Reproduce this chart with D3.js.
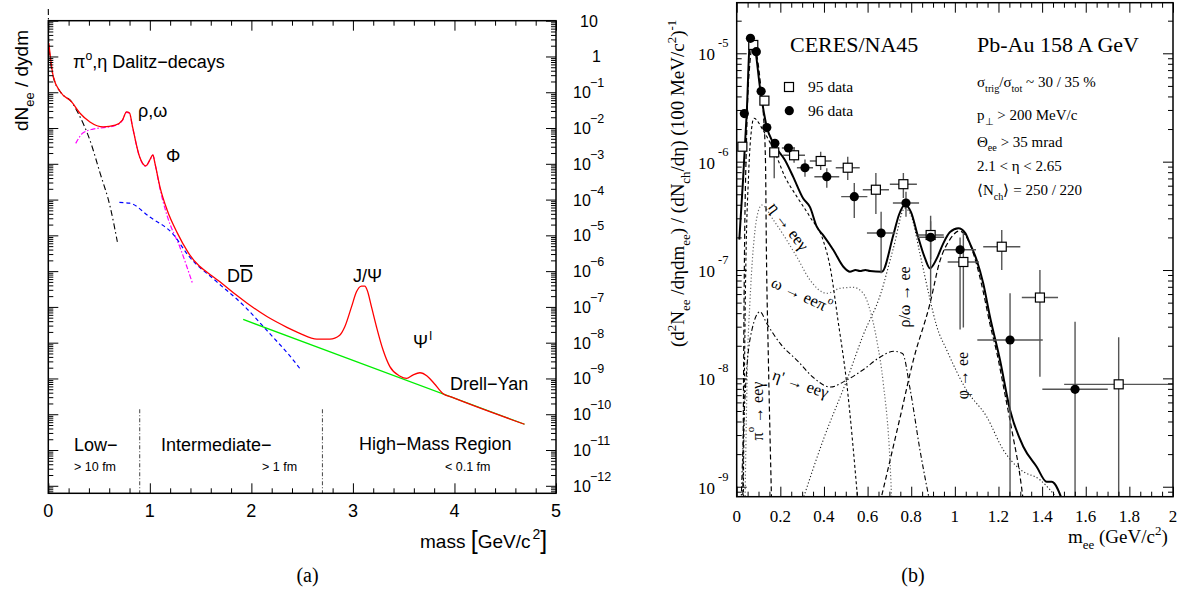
<!DOCTYPE html>
<html><head><meta charset="utf-8">
<script src="https://cdn.jsdelivr.net/npm/d3@7/dist/d3.min.js"></script>
<style>html,body{margin:0;padding:0;background:#fff;} svg{display:block;}</style>
</head><body>
<svg id="chart" width="1183" height="597"></svg>
<script>
// ================= Panel (a): [mass GeV/c^2, log10(dN_ee/dydm)] =================
const aTotal = [[0.005,0.377],[0.05,-0.574],[0.12,-0.993],[0.23,-1.27],[0.31,-1.58],[0.41,-1.83],[0.54,-1.97],[0.66,-1.92],[0.73,-1.78],[0.77,-1.55],[0.80,-1.58],[0.83,-1.97],[0.90,-2.81],[0.96,-3.06],[1.00,-2.89],[1.03,-2.75],[1.05,-2.98],[1.10,-3.65],[1.17,-4.29],[1.27,-4.93],[1.375,-5.47],[1.69,-6.30],[1.955,-6.89],[2.153,-7.27],[2.35,-7.57],[2.477,-7.74],[2.645,-7.90],[2.773,-7.90],[2.87,-7.79],[2.92,-7.555],[2.986,-7.00],[3.035,-6.576],[3.085,-6.417],[3.118,-6.417],[3.14,-6.53],[3.183,-7.0],[3.232,-7.555],[3.297,-8.206],[3.364,-8.67],[3.46,-8.93],[3.53,-9.0],[3.59,-8.905],[3.66,-8.84],[3.73,-8.93],[3.80,-9.14],[3.885,-9.42],[3.98,-9.53],[4.69,-10.28]];
const aDrellYan = [[1.919,-7.35],[4.69,-10.28]];
const aCharm = [[0.70,-4.08],[0.80,-4.10],[1.0,-4.49],[1.23,-4.97],[1.375,-5.55],[1.66,-6.30],[1.92,-6.95],[2.15,-7.65],[2.45,-8.62],[2.49,-8.77]];
const aVector = [[0.27,-2.43],[0.34,-2.14],[0.44,-2.03],[0.575,-1.98],[0.66,-1.93],[0.73,-1.79],[0.77,-1.56],[0.80,-1.59],[0.83,-1.98],[0.90,-2.82],[0.96,-3.07],[1.00,-2.90],[1.03,-2.76],[1.05,-2.99],[1.10,-3.70],[1.17,-4.45],[1.30,-5.36],[1.42,-6.34]];
const aDalitz = [[0.0,1.33],[0.005,0.377],[0.05,-0.574],[0.12,-0.993],[0.23,-1.27],[0.295,-1.59],[0.41,-2.34],[0.51,-3.26],[0.61,-4.21],[0.68,-5.18]];
const aRegionEdges = [0.9, 2.7];
const aRegionTopLog = -9.86;
const aXTicks = [0,1,2,3,4,5];
const aYDecades = [1,0,-1,-2,-3,-4,-5,-6,-7,-8,-9,-10,-11,-12];

// ================= Panel (b): [m_ee GeV/c^2, log10 yield] =================
const bTotal = [[0.012,-6.72],[0.029,-6.17],[0.046,-5.55],[0.061,-4.88],[0.072,-4.86],[0.084,-4.95],[0.107,-5.32],[0.138,-5.68],[0.168,-5.83],[0.221,-5.985],[0.259,-6.14],[0.305,-6.34],[0.336,-6.42],[0.367,-6.60],[0.397,-6.68],[0.443,-6.815],[0.489,-6.97],[0.519,-7.016],[0.545,-7.0],[0.565,-7.01],[0.59,-7.0],[0.611,-7.01],[0.665,-7.016],[0.718,-6.677],[0.744,-6.49],[0.771,-6.40],[0.799,-6.465],[0.831,-6.69],[0.863,-6.89],[0.886,-6.984],[0.918,-6.89],[0.947,-6.754],[0.978,-6.65],[1.016,-6.615],[1.047,-6.658],[1.069,-6.754],[1.100,-6.908],[1.130,-7.123],[1.161,-7.431],[1.207,-7.831],[1.253,-8.292],[1.314,-8.631],[1.375,-8.815],[1.421,-8.954],[1.444,-8.954],[1.497,-9.15]];
const bPi0 = [[0.028,-9.15],[0.035,-7.0],[0.045,-5.8],[0.06,-5.1],[0.075,-4.91],[0.095,-5.05],[0.11,-5.3],[0.122,-5.55],[0.132,-6.0],[0.136,-6.8],[0.145,-7.8],[0.16,-9.15]];
const bEta = [[0.03,-9.15],[0.04,-7.2],[0.055,-6.1],[0.068,-5.7],[0.079,-5.6],[0.121,-5.71],[0.183,-5.954],[0.221,-6.139],[0.275,-6.32],[0.336,-6.51],[0.397,-6.73],[0.428,-6.97],[0.464,-7.46],[0.504,-8.04],[0.556,-9.15]];
const bOmegaDalitz = [[0.038,-9.15],[0.05,-7.8],[0.061,-7.28],[0.084,-6.63],[0.100,-6.45],[0.115,-6.40],[0.168,-6.538],[0.275,-6.877],[0.336,-7.092],[0.413,-7.215],[0.474,-7.169],[0.534,-7.16],[0.58,-7.215],[0.611,-7.369],[0.642,-7.646],[0.672,-8.046],[0.703,-8.78],[0.711,-9.15]];
const bEtaPrime = [[0.02,-9.15],[0.04,-8.1],[0.07,-7.55],[0.107,-7.385],[0.137,-7.49],[0.2,-7.68],[0.28,-7.84],[0.35,-7.99],[0.43,-8.08],[0.5,-8.02],[0.58,-7.92],[0.66,-7.80],[0.72,-7.75],[0.76,-7.77],[0.795,-8.1],[0.84,-8.66],[0.886,-9.15]];
const bRhoOmega = [[0.298,-9.15],[0.40,-8.55],[0.504,-8.02],[0.58,-7.6],[0.66,-7.22],[0.718,-6.8],[0.771,-6.43],[0.80,-6.50],[0.84,-6.85],[0.886,-7.27],[0.917,-7.52],[0.963,-7.74],[1.054,-8.11],[1.146,-8.354],[1.222,-8.66],[1.299,-8.84],[1.39,-8.936],[1.486,-9.15]];
const bPhi = [[0.657,-9.15],[0.749,-8.36],[0.81,-7.83],[0.886,-7.31],[0.931,-6.92],[0.977,-6.72],[1.02,-6.64],[1.06,-6.72],[1.10,-6.95],[1.13,-7.2],[1.161,-7.5],[1.192,-7.76],[1.23,-8.15],[1.268,-8.55],[1.295,-8.85],[1.315,-9.15]];
// 95 data: mass, log10 value, half bin width, log10 upper, log10 lower
const d95m  = [0.026,0.076,0.127,0.172,0.263,0.385,0.509,0.638,0.764,0.889,1.039,1.215,1.390,1.751];
const d95v  = [-5.862,-4.923,-5.437,-5.914,-5.941,-5.994,-6.056,-6.259,-6.208,-6.677,-6.926,-6.785,-7.254,-8.055];
const d95dx = [0.008,0.008,0.01,0.012,0.05,0.05,0.055,0.06,0.062,0.06,0.072,0.085,0.083,0.25];
const d95hi = [-5.84,-4.91,-5.42,-5.80,-5.87,-5.908,-5.955,-6.105,-6.105,-6.50,-6.658,-6.631,-7.00,-7.621];
const d95lo = [-5.88,-4.94,-5.45,-6.153,-6.01,-6.077,-6.17,-6.483,-6.336,-6.90,-7.53,-6.999,-7.985,-9.6];
// 96 data
const d96m  = [0.035,0.063,0.090,0.112,0.138,0.175,0.237,0.313,0.413,0.539,0.662,0.776,0.889,1.024,1.253,1.551];
const d96v  = [-5.556,-4.862,-4.985,-5.350,-5.685,-5.831,-5.874,-6.056,-6.139,-6.323,-6.659,-6.382,-6.698,-6.813,-7.646,-8.101];
const d96dx = [0,0,0,0,0.006,0.012,0.03,0.037,0.057,0.06,0.065,0.06,0.062,0.073,0.15,0.15];
const d96hi = [-5.556,-4.862,-4.985,-5.350,-5.685,-5.80,-5.85,-5.98,-6.06,-6.197,-6.462,-6.277,-6.55,-6.70,-7.215,-7.477];
const d96lo = [-5.556,-4.862,-4.985,-5.350,-5.685,-5.86,-5.90,-6.14,-6.24,-6.52,-7.03,-6.508,-7.246,-7.55,-9.6,-9.6];
const bXTicks = [0,0.2,0.4,0.6,0.8,1,1.2,1.4,1.6,1.8,2];
const bYDecades = [-5,-6,-7,-8,-9];

// ================= drawing =================
const SANS = "'Liberation Sans', Arial, Helvetica, sans-serif";
const SERIF = "'Liberation Serif', 'Times New Roman', Times, serif";
const svg = d3.select('#chart');
svg.append('rect').attr('width',1183).attr('height',597).attr('fill','#fff');

function rich(sel, parts, fs){
  let shift = 0;
  parts.forEach(([t,k])=>{
    const target = k==='sup' ? -0.42*fs : (k==='sub' ? 0.3*fs : 0);
    sel.append('tspan').attr('dy', (target-shift).toFixed(2))
       .style('font-size', (k==='n'?fs:0.68*fs)+'px').text(t);
    shift = target;
  });
  return sel;
}
function txt(g, x, y, parts, fs, fam, opts={}){
  const t = g.append('text').attr('font-family', fam).attr('fill','#000')
    .style('font-size', fs+'px');
  if(opts.rot!==undefined) t.attr('transform',`translate(${x},${y}) rotate(${opts.rot})`);
  else t.attr('x',x).attr('y',y);
  if(opts.anchor) t.attr('text-anchor',opts.anchor);
  if(opts.mid) t.attr('dominant-baseline','central');
  rich(t, typeof parts==='string' ? [[parts,'n']] : parts, fs);
  return t;
}
function logMinor(lo, hi){
  const out=[];
  for(let n=Math.floor(lo); n<=Math.ceil(hi); n++) for(let k=2;k<=9;k++){
    const v=k*Math.pow(10,n); if(Math.log10(v)>=lo && Math.log10(v)<=hi) out.push(v);
  }
  return out;
}
function tickAxis(g, gen, vals, size){
  g.call(gen.tickValues(vals).tickSize(size).tickFormat(''));
  g.select('.domain').remove();
  g.selectAll('line').attr('stroke','#000').attr('stroke-width',1);
}

// ---------- Panel (a) ----------
const aL=48.3, aR=556, aT=20.7, aB=493.3;
const xA = d3.scaleLinear([0,5],[aL,aR]);
const yA = d3.scaleLog([Math.pow(10,-12.21), 10],[aB,aT]);
const gA = svg.append('g');
const lineA = d3.line().x(d=>xA(d[0])).y(d=>yA(Math.pow(10,d[1]))).curve(d3.curveMonotoneX);

aRegionEdges.forEach(m=>{
  gA.append('line').attr('x1',xA(m)).attr('x2',xA(m))
    .attr('y1',yA(Math.pow(10,aRegionTopLog))).attr('y2',aB)
    .attr('stroke','#555').attr('stroke-width',1.1).attr('stroke-dasharray','4,2,1,2');
});
gA.append('path').datum(aDalitz).attr('d',lineA).attr('fill','none').attr('stroke','#000').attr('stroke-width',1.1).attr('stroke-dasharray','6,3,1.5,3');
gA.append('path').datum(aVector).attr('d',lineA).attr('fill','none').attr('stroke','#ff00ff').attr('stroke-width',1.2).attr('stroke-dasharray','5,2,1.5,2');
gA.append('path').datum(aCharm).attr('d',lineA).attr('fill','none').attr('stroke','#0000ff').attr('stroke-width',1.2).attr('stroke-dasharray','4,3');
gA.append('path').datum(aDrellYan).attr('d',lineA).attr('fill','none').attr('stroke','#00ee00').attr('stroke-width',1.3);
gA.append('path').datum(aTotal).attr('d',lineA).attr('fill','none').attr('stroke','#ff0000').attr('stroke-width',1.3);

gA.append('rect').attr('x',aL).attr('y',aT).attr('width',aR-aL).attr('height',aB-aT).attr('fill','none').attr('stroke','#000').attr('stroke-width',1.5);
const aMinorX = d3.range(0,5.001,0.2).filter(v=>Math.abs(v-Math.round(v))>1e-6);
tickAxis(gA.append('g').attr('transform',`translate(0,${aB})`), d3.axisTop(xA), aXTicks, 10);
tickAxis(gA.append('g').attr('transform',`translate(0,${aB})`), d3.axisTop(xA), aMinorX, 5);
tickAxis(gA.append('g').attr('transform',`translate(0,${aT})`), d3.axisBottom(xA), aXTicks, 10);
tickAxis(gA.append('g').attr('transform',`translate(0,${aT})`), d3.axisBottom(xA), aMinorX, 5);
const aMajY = aYDecades.map(n=>Math.pow(10,n));
const aMinY = logMinor(-12.21, 1);
tickAxis(gA.append('g').attr('transform',`translate(${aL},0)`), d3.axisRight(yA), aMajY, 10);
tickAxis(gA.append('g').attr('transform',`translate(${aL},0)`), d3.axisRight(yA), aMinY, 5);
tickAxis(gA.append('g').attr('transform',`translate(${aR},0)`), d3.axisLeft(yA), aMajY, 10);
tickAxis(gA.append('g').attr('transform',`translate(${aR},0)`), d3.axisLeft(yA), aMinY, 5);

aXTicks.forEach(v=> txt(gA, xA(v), 516.7, String(v), 18, SANS, {anchor:'middle'}));
aYDecades.forEach(n=>{
  const y = yA(Math.pow(10,n));
  if(n===1) txt(gA, 580, y, '10', 16, SANS, {mid:true});
  else if(n===0) txt(gA, 592, y, '1', 16, SANS, {mid:true});
  else {
    txt(gA, 573, y, '10', 16, SANS, {mid:true});
    txt(gA, 590, y-9, '\u2212'+(-n), 12.5, SANS, {mid:true});
  }
});
txt(gA, 28, 131, [['dN','n'],['ee','sub'],['  / dydm','n']], 19, SANS, {rot:-90});
const mt = gA.append('text').attr('x',420).attr('y',548.3).attr('font-family',SANS).style('font-size','19px');
mt.append('tspan').text('mass ');
mt.append('tspan').style('font-size','25px').attr('dy',1).text('[');
mt.append('tspan').style('font-size','19px').attr('dy',-1).text('GeV/c');
mt.append('tspan').style('font-size','14px').attr('dy',-9).attr('dx',2).text('2');
mt.append('tspan').style('font-size','25px').attr('dy',10).text(']');

txt(gA, 73, 68, [['\u03c0','n'],['o','sup'],[',\u03b7 Dalitz\u2212decays','n']], 18, SANS);
txt(gA, 138, 117, '\u03c1,\u03c9', 18, SANS);
txt(gA, 166, 162, '\u03a6', 18, SANS);
const dd = gA.append('text').attr('x',227).attr('y',282).attr('font-family',SANS).style('font-size','18px');
dd.append('tspan').text('D');
dd.append('tspan').style('text-decoration','overline').text('D');
txt(gA, 353, 282, 'J/\u03a8', 18, SANS);
const psi = gA.append('text').attr('x',413).attr('y',348).attr('font-family',SANS).style('font-size','18px');
psi.append('tspan').text('\u03a8');
psi.append('tspan').style('font-size','12px').attr('dy',-8).attr('dx',1).text('I');
txt(gA, 450, 390, 'Drell\u2212Yan', 18, SANS);
txt(gA, 74, 451, 'Low\u2212', 18, SANS);
txt(gA, 74, 471, '> 10 fm', 12.5, SANS);
txt(gA, 161, 451, 'Intermediate\u2212', 18, SANS);
txt(gA, 262, 471, '> 1 fm', 12.5, SANS);
txt(gA, 359, 450, 'High\u2212Mass Region', 18, SANS);
txt(gA, 445, 471, '< 0.1 fm', 12.5, SANS);
txt(svg, 307.5, 582, '(a)', 20, SERIF, {anchor:'middle'});

// ---------- Panel (b) ----------
const bL=736.7, bR=1173, bT=2.7, bB=496.7;
const xB = d3.scaleLinear([0,2],[bL,bR]);
const yB = d3.scaleLog([Math.pow(10,-9.092), Math.pow(10,-4.533)],[bB,bT]);
const gB = svg.append('g');
svg.append('defs').append('clipPath').attr('id','clipB').append('rect')
  .attr('x',bL).attr('y',bT).attr('width',bR-bL).attr('height',bB-bT);
const cB = gB.append('g').attr('clip-path','url(#clipB)');
const lineB = d3.line().x(d=>xB(d[0])).y(d=>yB(Math.pow(10,d[1]))).curve(d3.curveMonotoneX);
function curveB(data, dash, color, w){
  cB.append('path').datum(data).attr('d',lineB).attr('fill','none')
    .attr('stroke',color).attr('stroke-width',w).attr('stroke-dasharray',dash);
}
curveB(bOmegaDalitz, '1.2,2.2', '#666', 1.2);
curveB(bRhoOmega, '1.2,2.2', '#222', 1.1);
curveB(bEtaPrime, '5,2.5,1.5,2.5', '#000', 1.1);
curveB(bEta, '3,2.5', '#000', 1.1);
curveB(bPi0, '5,3', '#000', 1.2);
curveB(bPhi, '5,3', '#000', 1.2);
curveB(bTotal, null, '#000', 2);

const ebCol = '#555';
function errBars(ms, vs, dxs, his, los){
  ms.forEach((m,i)=>{
    if(dxs[i]>0) cB.append('line').attr('x1',xB(m-dxs[i])).attr('x2',xB(m+dxs[i]))
      .attr('y1',yB(Math.pow(10,vs[i]))).attr('y2',yB(Math.pow(10,vs[i])))
      .attr('stroke',ebCol).attr('stroke-width',1.4);
    if(his[i]!==los[i]) cB.append('line').attr('x1',xB(m)).attr('x2',xB(m))
      .attr('y1',yB(Math.pow(10,his[i]))).attr('y2',yB(Math.pow(10,los[i])))
      .attr('stroke',ebCol).attr('stroke-width',1.4);
  });
}
errBars(d95m, d95v, d95dx, d95hi, d95lo);
errBars(d96m, d96v, d96dx, d96hi, d96lo);
d95m.forEach((m,i)=>{
  cB.append('rect').attr('x',xB(m)-4.5).attr('y',yB(Math.pow(10,d95v[i]))-4.5).attr('width',9).attr('height',9)
    .attr('fill','#fff').attr('stroke','#000').attr('stroke-width',1.2);
});
d96m.forEach((m,i)=>{
  cB.append('circle').attr('cx',xB(m)).attr('cy',yB(Math.pow(10,d96v[i]))).attr('r',4.6).attr('fill','#000');
});

gB.append('rect').attr('x',bL).attr('y',bT).attr('width',bR-bL).attr('height',bB-bT).attr('fill','none').attr('stroke','#000').attr('stroke-width',1.5);
const bMinorX = d3.range(0,2.0001,0.05).filter(v=>Math.abs(v*5-Math.round(v*5))>1e-6);
tickAxis(gB.append('g').attr('transform',`translate(0,${bB})`), d3.axisTop(xB), bXTicks, 10);
tickAxis(gB.append('g').attr('transform',`translate(0,${bB})`), d3.axisTop(xB), bMinorX, 5);
tickAxis(gB.append('g').attr('transform',`translate(0,${bT})`), d3.axisBottom(xB), bXTicks, 10);
tickAxis(gB.append('g').attr('transform',`translate(0,${bT})`), d3.axisBottom(xB), bMinorX, 5);
const bMajY = bYDecades.map(n=>Math.pow(10,n));
const bMinY = logMinor(-9.092, -4.533);
tickAxis(gB.append('g').attr('transform',`translate(${bL},0)`), d3.axisRight(yB), bMajY, 10);
tickAxis(gB.append('g').attr('transform',`translate(${bL},0)`), d3.axisRight(yB), bMinY, 5);
tickAxis(gB.append('g').attr('transform',`translate(${bR},0)`), d3.axisLeft(yB), bMajY, 10);
tickAxis(gB.append('g').attr('transform',`translate(${bR},0)`), d3.axisLeft(yB), bMinY, 5);

bXTicks.forEach(v=> txt(gB, xB(v), 521.7, String(+v.toFixed(1)), 17, SERIF, {anchor:'middle'}));
bYDecades.forEach(n=>{
  const y = yB(Math.pow(10,n));
  txt(gB, 715, y+1, '10', 17, SERIF, {anchor:'end', mid:true});
  txt(gB, 718, y-10, '-'+(-n), 12.5, SERIF, {mid:true});
});
txt(gB, 684, 347, [['(d','n'],['2','sup'],['N','n'],['ee','sub'],[' /d\u03b7dm','n'],['ee','sub'],[') / (dN','n'],['ch','sub'],['/d\u03b7) (100 MeV/c','n'],['2','sup'],[')','n'],['-1','sup']], 19, SERIF, {rot:-90});
txt(gB, 1068, 543, [['m','n'],['ee','sub'],[' (GeV/c','n'],['2','sup'],[')','n']], 19, SERIF);

txt(gB, 790, 51.7, 'CERES/NA45', 22, SERIF);
txt(gB, 977, 51.7, 'Pb-Au 158 A GeV', 22, SERIF);
gB.append('rect').attr('x',789-4.5).attr('y',87-4.5).attr('width',9).attr('height',9).attr('fill','#fff').attr('stroke','#000').attr('stroke-width',1.2);
gB.append('circle').attr('cx',789.3).attr('cy',110.7).attr('r',4.6).attr('fill','#000');
txt(gB, 808, 91.7, '95 data', 15.5, SERIF);
txt(gB, 808, 115.5, '96 data', 15.5, SERIF);
txt(gB, 977, 87.3, [['\u03c3','n'],['trig','sub'],['/\u03c3','n'],['tot','sub'],[' ~ 30 / 35 %','n']], 15, SERIF);
txt(gB, 977, 120, [['p','n'],['\u22a5','sub'],[' > 200 MeV/c','n']], 15, SERIF);
txt(gB, 977, 146.7, [['\u0398','n'],['ee','sub'],[' > 35 mrad','n']], 15, SERIF);
txt(gB, 977, 170.7, '2.1 < \u03b7 < 2.65', 15, SERIF);
txt(gB, 977, 195, [['\u27e8N','n'],['ch','sub'],['\u27e9 = 250 / 220','n']], 15, SERIF);
txt(gB, 789, 226, '\u03b7 \u2192 ee\u03b3', 16.5, SERIF, {rot:53, anchor:'middle', mid:true});
txt(gB, 801.7, 294.3, [['\u03c9 \u2192 ee\u03c0','n'],['o','sup']], 16.5, SERIF, {rot:25, anchor:'middle', mid:true});
txt(gB, 800.7, 383.3, "\u03b7' \u2192 ee\u03b3", 16.5, SERIF, {rot:19, anchor:'middle', mid:true});
txt(gB, 757, 411, [['\u03c0','n'],['o','sup'],[' \u2192 ee\u03b3','n']], 16, SERIF, {rot:-90, anchor:'middle', mid:true});
txt(gB, 904, 297, '\u03c1/\u03c9 \u2192 ee', 16, SERIF, {rot:-90, anchor:'middle', mid:true});
txt(gB, 962, 375.5, '\u03c6 \u2192 ee', 16, SERIF, {rot:-90, anchor:'middle', mid:true});
txt(svg, 913, 582, '(b)', 20, SERIF, {anchor:'middle'});
</script>
</body></html>
